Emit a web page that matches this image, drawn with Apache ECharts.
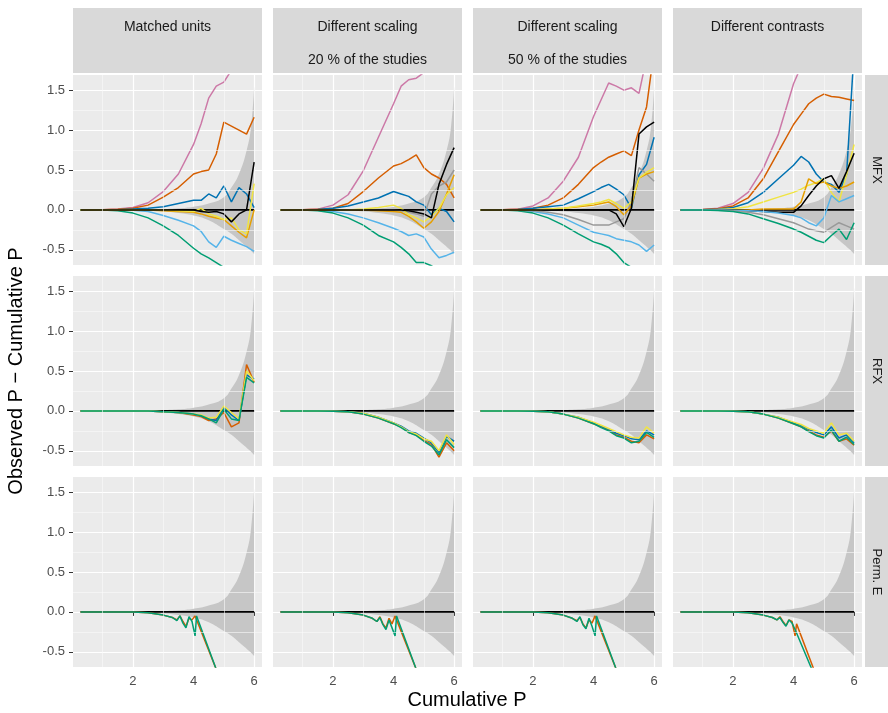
<!DOCTYPE html>
<html>
<head>
<meta charset="utf-8">
<script src="https://cdn.jsdelivr.net/npm/echarts@6.0.0/dist/echarts.min.js"></script>
<style>html,body{margin:0;padding:0;background:#fff}#chart{width:888px;height:713px}</style>
</head>
<body>
<div id="chart"></div>
<script>
'use strict';

//facet labels
var colLabels = [['Matched units'], ['Different scaling', '20 % of the studies'],
  ['Different scaling', '50 % of the studies'], ['Different contrasts']];
var rowLabels = ['MFX', 'RFX', 'Perm. E'];

//common x grid for the curves
var X = [0.27, 1, 1.5, 2, 2.5, 3, 3.5, 4, 4.25, 4.5, 4.75, 5, 5.25, 5.5, 5.75, 6];

//null band
var bandX = [0.27, 1, 2, 3, 3.5, 4, 4.5, 5, 5.25, 5.5, 5.75, 5.9, 6];
var bandUpper = [0, 0, 0.002, 0.01, 0.02, 0.04, 0.08, 0.16, 0.28, 0.45, 0.74, 1.05, 1.55];
var bandLower = [0, 0, -0.004, -0.02, -0.04, -0.07, -0.13, -0.24, -0.3, -0.38, -0.46, -0.51, -0.55];

var colors = {
  pink: '#cc79a7', orange: '#d55e00', blue: '#0072b2', yellow: '#f0e442',
  gold: '#e69f00', lightblue: '#56b4e9', gray: '#999999', green: '#009e73', black: '#000000'
};

//MFX row
var mfxMatched = {
  pink:      [0, 0.003, 0.01, 0.03, 0.09, 0.23, 0.45, 0.82, 1.08, 1.4, 1.55, 1.6, 1.75, 1.9, 2.0, 2.2],
  orange:    [0, 0.002, 0.008, 0.02, 0.06, 0.16, 0.28, 0.45, 0.48, 0.5, 0.7, 1.1, 1.05, 1.0, 0.95, 1.16],
  blue:      [0, 0, 0.003, 0.01, 0.02, 0.04, 0.08, 0.12, 0.12, 0.2, 0.15, 0.3, 0.1, 0.28, 0.2, 0.03],
  lightblue: [0, 0, -0.002, -0.005, -0.02, -0.07, -0.13, -0.2, -0.27, -0.4, -0.47, -0.33, -0.38, -0.42, -0.46, -0.52],
  green:     [0, -0.002, -0.01, -0.04, -0.1, -0.2, -0.32, -0.48, -0.55, -0.6, -0.66, -0.72, -0.76, -0.8, -0.82, -0.85],
  gold:      [0, 0, 0, 0, 0, -0.01, -0.02, -0.03, -0.05, -0.08, -0.1, -0.12, -0.2, -0.28, -0.35, 0.0],
  yellow:    [0, 0, 0, 0, 0, 0, -0.01, -0.02, 0.02, -0.05, -0.08, -0.12, -0.1, -0.25, -0.3, 0.33],
  black:     [0, 0, 0, 0, 0, 0, 0, 0, -0.02, -0.03, -0.02, -0.05, -0.15, -0.05, 0, 0.6]
};
var mfxScale20 = {
  pink:      [0, 0.003, 0.01, 0.06, 0.19, 0.49, 0.91, 1.33, 1.55, 1.63, 1.65, 1.72, 1.8, 1.9, 2.0, 2.1],
  orange:    [0, 0.002, 0.008, 0.02, 0.08, 0.23, 0.4, 0.55, 0.58, 0.63, 0.69, 0.53, 0.45, 0.4, 0.32, 0.15],
  blue:      [0, 0, 0.004, 0.02, 0.05, 0.1, 0.15, 0.23, 0.2, 0.17, 0.1, 0.06, -0.06, 0.02, -0.02, -0.15],
  lightblue: [0, 0, -0.004, -0.02, -0.05, -0.1, -0.16, -0.23, -0.27, -0.32, -0.3, -0.34, -0.49, -0.6, -0.57, -0.53],
  green:     [0, -0.002, -0.01, -0.04, -0.1, -0.19, -0.32, -0.4, -0.47, -0.55, -0.66, -0.66, -0.7, -0.75, -0.8, -0.85],
  gray:      [0, 0, 0, 0, 0, 0, 0, 0, -0.01, -0.03, -0.05, -0.08, 0.2, 0.3, 0.35, 0.5],
  gold:      [0, 0, 0, 0, 0, 0, -0.01, -0.02, -0.03, -0.08, -0.15, -0.23, -0.15, -0.02, 0.2, 0.44],
  yellow:    [0, 0, 0, 0, 0, 0.01, 0.03, 0.06, 0.02, -0.06, -0.1, -0.15, -0.08, 0.02, 0.19, 0.28],
  black:     [0, 0, 0, 0, 0, 0, 0, 0, 0, -0.01, -0.03, -0.05, -0.1, 0.32, 0.57, 0.78]
};
var mfxScale50 = {
  pink:      [0, 0.003, 0.01, 0.05, 0.15, 0.36, 0.66, 1.17, 1.38, 1.59, 1.55, 1.5, 1.53, 1.46, 1.9, 2.1],
  orange:    [0, 0.002, 0.008, 0.02, 0.06, 0.15, 0.32, 0.53, 0.6, 0.66, 0.7, 0.74, 0.68, 1.0, 1.29, 2.0],
  blue:      [0, 0, 0.004, 0.02, 0.04, 0.06, 0.14, 0.23, 0.28, 0.32, 0.26, 0.19, 0.02, 0.44, 0.57, 0.91],
  lightblue: [0, 0, -0.004, -0.02, -0.05, -0.1, -0.19, -0.28, -0.3, -0.32, -0.36, -0.38, -0.4, -0.44, -0.52, -0.44],
  green:     [0, -0.002, -0.01, -0.04, -0.1, -0.19, -0.3, -0.4, -0.43, -0.47, -0.55, -0.66, -0.72, -0.8, -0.85, -0.9],
  gray:      [0, 0, -0.003, -0.01, -0.03, -0.06, -0.12, -0.19, -0.19, -0.19, -0.15, -0.11, 0.1, 0.53, 0.45, 0.36],
  gold:      [0, 0, 0, 0, 0.01, 0.02, 0.04, 0.06, 0.08, 0.1, 0.04, -0.06, 0.05, 0.4, 0.45, 0.48],
  yellow:    [0, 0, 0, 0, 0.01, 0.02, 0.05, 0.08, 0.1, 0.13, 0.08, 0.02, 0.1, 0.4, 0.47, 0.53],
  black:     [0, 0, 0, 0, 0, 0, 0, 0, 0, 0, -0.05, -0.21, 0.02, 0.95, 1.04, 1.1]
};
var mfxContrast = {
  pink:      [0, 0.005, 0.02, 0.08, 0.22, 0.52, 0.95, 1.58, 1.8, 2.0, 2.1, 2.2, 2.3, 2.4, 2.5, 2.6],
  orange:    [0, 0.004, 0.015, 0.05, 0.15, 0.39, 0.73, 1.07, 1.2, 1.33, 1.4, 1.45, 1.42, 1.41, 1.39, 1.37],
  blue:      [0, 0.002, 0.008, 0.03, 0.09, 0.22, 0.39, 0.56, 0.67, 0.6, 0.45, 0.35, 0.32, 0.22, 0.44, 2.0],
  yellow:    [0, 0, 0.004, 0.015, 0.04, 0.1, 0.16, 0.22, 0.26, 0.31, 0.34, 0.39, 0.22, 0.1, 0.44, 0.82],
  gold:      [0, 0, 0, 0, 0, 0.01, 0.01, 0.01, 0.1, 0.39, 0.33, 0.35, 0.3, 0.27, 0.3, 0.35],
  black:     [0, 0, 0, 0, -0.01, -0.02, -0.03, -0.03, 0.05, 0.18, 0.3, 0.39, 0.43, 0.27, 0.48, 0.71],
  lightblue: [0, 0, 0, -0.005, -0.01, -0.02, -0.04, -0.07, -0.1, -0.16, -0.2, -0.1, 0.18, 0.1, 0.14, 0.18],
  gray:      [0, 0, -0.003, -0.01, -0.03, -0.06, -0.11, -0.16, -0.2, -0.24, -0.26, -0.28, -0.22, -0.16, -0.2, -0.24],
  green:     [0, -0.001, -0.006, -0.02, -0.05, -0.11, -0.17, -0.24, -0.28, -0.33, -0.38, -0.41, -0.32, -0.24, -0.37, -0.16]
};

//RFX row
var rfxMatched = {
  orange: [0, 0, 0, 0, 0, -0.01, -0.02, -0.05, -0.07, -0.12, -0.1, -0.02, -0.2, -0.15, 0.58, 0.36],
  blue:   [0, 0, 0, 0, 0, -0.01, -0.02, -0.04, -0.06, -0.1, -0.12, 0.05, -0.05, -0.12, 0.45, 0.4],
  yellow: [0, 0, 0, 0, 0, -0.01, -0.02, -0.04, -0.05, -0.09, -0.08, 0.06, -0.02, -0.1, 0.5, 0.38],
  green:  [0, 0, 0, 0, 0, -0.01, -0.02, -0.04, -0.06, -0.1, -0.15, 0.02, -0.1, -0.12, 0.42, 0.35]
};
var rfxScale20 = {
  orange: [0, 0, 0, -0.005, -0.01, -0.04, -0.09, -0.16, -0.2, -0.27, -0.3, -0.37, -0.42, -0.58, -0.4, -0.5],
  blue:   [0, 0, 0, -0.005, -0.01, -0.03, -0.08, -0.15, -0.19, -0.25, -0.28, -0.34, -0.4, -0.52, -0.32, -0.38],
  yellow: [0, 0, 0, -0.005, -0.01, -0.03, -0.08, -0.15, -0.2, -0.26, -0.29, -0.35, -0.38, -0.5, -0.3, -0.42],
  green:  [0, 0, 0, -0.005, -0.01, -0.04, -0.09, -0.16, -0.21, -0.27, -0.31, -0.38, -0.44, -0.55, -0.36, -0.46]
};
var rfxScale50 = {
  orange: [0, 0, 0, -0.005, -0.01, -0.04, -0.09, -0.16, -0.2, -0.24, -0.3, -0.33, -0.38, -0.4, -0.3, -0.35],
  blue:   [0, 0, 0, -0.005, -0.01, -0.04, -0.08, -0.15, -0.19, -0.23, -0.28, -0.31, -0.35, -0.36, -0.25, -0.3],
  yellow: [0, 0, 0, -0.005, -0.01, -0.04, -0.08, -0.14, -0.18, -0.22, -0.26, -0.3, -0.33, -0.34, -0.2, -0.28],
  green:  [0, 0, 0, -0.005, -0.01, -0.04, -0.09, -0.16, -0.21, -0.25, -0.31, -0.34, -0.4, -0.38, -0.27, -0.33]
};
var rfxContrast = {
  orange: [0, 0, 0, -0.005, -0.01, -0.04, -0.09, -0.16, -0.2, -0.25, -0.3, -0.33, -0.25, -0.38, -0.35, -0.43],
  blue:   [0, 0, 0, -0.005, -0.01, -0.04, -0.08, -0.15, -0.18, -0.23, -0.27, -0.3, -0.2, -0.34, -0.3, -0.4],
  yellow: [0, 0, 0, -0.005, -0.01, -0.04, -0.08, -0.14, -0.17, -0.22, -0.25, -0.28, -0.15, -0.3, -0.28, -0.38],
  green:  [0, 0, 0, -0.005, -0.01, -0.04, -0.09, -0.16, -0.2, -0.26, -0.31, -0.34, -0.24, -0.38, -0.33, -0.42]
};

//Perm. E row (finer x near the drops)
var permX = [0.27, 1, 2, 2.5, 3, 3.3, 3.45, 3.55, 3.65, 3.75, 3.85, 3.95, 4.05, 4.1, 4.75];
var permMatched = {
  orange: [0, 0, -0.002, -0.01, -0.04, -0.07, -0.1, -0.05, -0.12, -0.18, -0.08, -0.1, -0.05, -0.06, -0.72],
  green:  [0, 0, -0.002, -0.01, -0.04, -0.07, -0.11, -0.05, -0.14, -0.2, -0.06, -0.12, -0.3, -0.05, -0.72]
};
var permScale20 = {
  orange: [0, 0, -0.002, -0.01, -0.04, -0.08, -0.12, -0.06, -0.15, -0.2, -0.08, -0.15, -0.05, -0.1, -0.72],
  green:  [0, 0, -0.002, -0.01, -0.04, -0.08, -0.12, -0.07, -0.16, -0.22, -0.1, -0.2, -0.3, -0.05, -0.72]
};
var permScale50 = {
  orange: [0, 0, -0.002, -0.01, -0.04, -0.08, -0.11, -0.07, -0.15, -0.2, -0.1, -0.14, -0.05, -0.1, -0.72],
  green:  [0, 0, -0.002, -0.01, -0.04, -0.08, -0.12, -0.06, -0.16, -0.21, -0.08, -0.18, -0.3, -0.05, -0.72]
};
var permContrast = {
  orange: [0, 0, -0.002, -0.01, -0.04, -0.07, -0.1, -0.06, -0.12, -0.17, -0.1, -0.12, -0.3, -0.15, -0.8],
  green:  [0, 0, -0.002, -0.01, -0.04, -0.07, -0.1, -0.07, -0.13, -0.18, -0.1, -0.14, -0.22, -0.2, -0.85]
};

var panels = [
  [mfxMatched, X], [mfxScale20, X], [mfxScale50, X], [mfxContrast, X],
  [rfxMatched, X], [rfxScale20, X], [rfxScale50, X], [rfxContrast, X],
  [permMatched, permX], [permScale20, permX], [permScale50, permX], [permContrast, permX]
];

//layout
var colLeft = [73, 273, 473, 673];
var rowTop = [75, 276, 477];
var panelW = 189, panelH = 190;

function zip(xs, ys) {
  return xs.map(function(x, i) { return [x, ys[i]]; });
}

var grids = [], xAxes = [], yAxes = [], series = [], graphics = [];
var labelFont = 'Liberation Sans, Arial, sans-serif';
var yMajor = [-0.5, 0, 0.5, 1, 1.5];

panels.forEach(function(p, idx) {
  var r = Math.floor(idx / 4), c = idx % 4;
  grids.push({ left: colLeft[c], top: rowTop[r], width: panelW, height: panelH,
    show: true, backgroundColor: '#ebebeb', borderWidth: 0 });
  xAxes.push({
    gridIndex: idx, type: 'value', min: 0.02, max: 6.26,
    axisLine: { show: false },
    axisLabel: { show: r === 2, color: '#4d4d4d', fontSize: 13, fontFamily: labelFont,
      customValues: [2, 4, 6] },
    axisTick: { show: r === 2, length: 4, lineStyle: { color: '#333' }, customValues: [2, 4, 6] },
    splitLine: { show: true, lineStyle: { color: '#fff', width: 1.2 }, customValues: [2, 4, 6] }
  });
  //hidden axis only for the minor x gridlines
  yAxes.push({
    gridIndex: idx, type: 'value', min: -0.69, max: 1.69,
    axisLine: { show: false },
    axisTick: { show: c === 0, length: 4, lineStyle: { color: '#333' }, customValues: yMajor },
    axisLabel: { show: c === 0, color: '#4d4d4d', fontSize: 13, fontFamily: labelFont,
      customValues: yMajor,
      formatter: function(v) { return v.toFixed(1); } },
    splitLine: { show: true, lineStyle: { color: '#fff', width: 1.2 }, customValues: yMajor }
  });

  //minor gridlines
  var minorLines = [];
  [1, 3, 5].forEach(function(v) { minorLines.push({ xAxis: v }); });
  [-0.25, 0.25, 0.75, 1.25].forEach(function(v) { minorLines.push({ yAxis: v }); });
  series.push({ type: 'line', xAxisIndex: idx, yAxisIndex: idx, data: [], z: 0,
    markLine: { silent: true, symbol: 'none', label: { show: false },
      lineStyle: { color: '#fafafa', width: 0.6, type: 'solid' }, data: minorLines } });

  //band as two areas hugging zero
  [bandUpper, bandLower].forEach(function(b) {
    series.push({ type: 'line', xAxisIndex: idx, yAxisIndex: idx, data: zip(bandX, b),
      smooth: true, symbol: 'none', lineStyle: { width: 0 },
      areaStyle: { color: '#c6c6c6', opacity: 1, origin: 0 }, silent: true, z: 1 });
  });
  //reference line
  series.push({ type: 'line', xAxisIndex: idx, yAxisIndex: idx,
    data: [[0.27, 0], [6, 0]], symbol: 'none', lineStyle: { color: '#000', width: 1.6 }, z: 2 });

  var set = p[0], xs = p[1];
  Object.keys(set).forEach(function(name) {
    series.push({ type: 'line', xAxisIndex: idx, yAxisIndex: idx, data: zip(xs, set[name]),
      symbol: 'none', clip: true,
      lineStyle: { color: colors[name], width: 1.5 }, z: 3 });
  });
});

//column strips
colLabels.forEach(function(lines, c) {
  graphics.push({ type: 'rect', shape: { x: colLeft[c], y: 8, width: panelW, height: 65 },
    style: { fill: '#d9d9d9' } });
  lines.forEach(function(t, k) {
    graphics.push({ type: 'text', x: colLeft[c] + panelW / 2, y: 27 + k * 33,
      style: { text: t, fill: '#1a1a1a', font: '14px ' + labelFont,
        textAlign: 'center', textVerticalAlign: 'middle' } });
  });
});
//row strips
rowLabels.forEach(function(t, r) {
  graphics.push({ type: 'rect', shape: { x: 865, y: rowTop[r], width: 23, height: panelH },
    style: { fill: '#d9d9d9' } });
  graphics.push({ type: 'text', x: 877, y: rowTop[r] + panelH / 2, rotation: -Math.PI / 2,
    style: { text: t, fill: '#1a1a1a', font: '13px ' + labelFont,
      textAlign: 'center', textVerticalAlign: 'middle' } });
});
//axis titles
graphics.push({ type: 'text', x: 467, y: 700,
  style: { text: 'Cumulative P', fill: '#000', font: '20px ' + labelFont,
    textAlign: 'center', textVerticalAlign: 'middle' } });
graphics.push({ type: 'text', x: 16, y: 371, rotation: Math.PI / 2,
  style: { text: 'Observed P \u2212 Cumulative P', fill: '#000', font: '20px ' + labelFont,
    textAlign: 'center', textVerticalAlign: 'middle' } });

var chart = echarts.init(document.getElementById('chart'));
chart.setOption({
  animation: false,
  grid: grids,
  xAxis: xAxes,
  yAxis: yAxes,
  series: series,
  graphic: graphics
});
</script>
</body>
</html>
